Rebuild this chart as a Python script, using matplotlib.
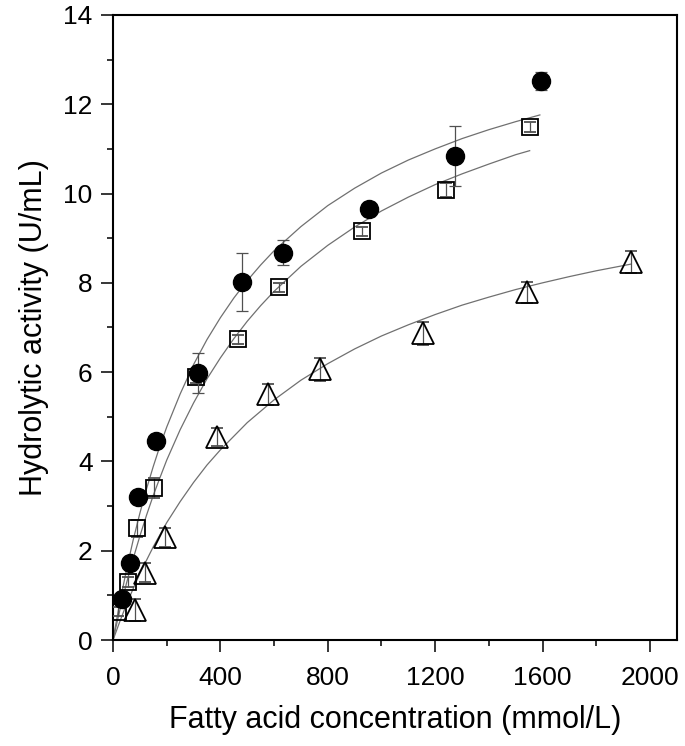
import numpy as np
import matplotlib.pyplot as plt
from matplotlib.ticker import MultipleLocator

plt.rcParams['font.family'] = ['Liberation Sans', 'DejaVu Sans']

# measured points (filled circles)
x_circ = [32, 63, 93, 160, 316, 479, 635, 955, 1274, 1593]
y_circ = [0.92, 1.72, 3.2, 4.46, 5.98, 8.02, 8.67, 9.65, 10.84, 12.52]
e_circ = [0.1, 0.1, 0.12, 0.15, 0.45, 0.65, 0.28, 0.15, 0.68, 0.2]

# open squares
x_sq = [19, 56, 90, 152, 308, 464, 617, 929, 1241, 1552]
y_sq = [0.63, 1.30, 2.5, 3.41, 5.9, 6.74, 7.9, 9.16, 10.08, 11.49]
e_sq = [0.1, 0.12, 0.2, 0.23, 0.15, 0.1, 0.1, 0.1, 0.15, 0.12]

# open triangles
x_tri = [82, 118, 193, 386, 576, 772, 1155, 1541, 1928]
y_tri = [0.67, 1.51, 2.3, 4.55, 5.5, 6.06, 6.87, 7.79, 8.47]
e_tri = [0.25, 0.21, 0.22, 0.2, 0.24, 0.26, 0.26, 0.24, 0.25]

# fitted curves
fx_circ = [0, 10, 25, 50, 75, 100, 125, 150, 175, 200, 250, 300, 350, 400, 450, 500, 550,
           600, 700, 800, 900, 1000, 1100, 1200, 1300, 1400, 1500, 1590]
fy_circ = [0, 0.34, 0.83, 1.57, 2.24, 2.84, 3.39, 3.89, 4.35, 4.77, 5.51, 6.17, 6.73, 7.22,
           7.66, 8.05, 8.40, 8.72, 9.26, 9.73, 10.12, 10.46, 10.75, 11.00, 11.23, 11.43,
           11.61, 11.76]

fx_sq = [0, 10, 25, 50, 75, 100, 125, 150, 175, 200, 250, 300, 350, 400, 450, 500, 550,
         600, 700, 800, 900, 1000, 1100, 1200, 1300, 1400, 1500, 1552]
fy_sq = [0, 0.27, 0.66, 1.27, 1.82, 2.33, 2.80, 3.24, 3.64, 4.03, 4.71, 5.31, 5.85, 6.32,
         6.75, 7.14, 7.49, 7.81, 8.37, 8.84, 9.25, 9.61, 9.92, 10.20, 10.44, 10.66, 10.87,
         10.96]

fx_tri = [0, 25, 50, 75, 100, 150, 200, 250, 300, 350, 400, 500, 600, 700, 800, 900, 1000,
          1100, 1200, 1300, 1400, 1500, 1600, 1700, 1800, 1930]
fy_tri = [0, 0.41, 0.80, 1.15, 1.49, 2.09, 2.63, 3.10, 3.53, 3.92, 4.26, 4.87, 5.38, 5.82,
          6.19, 6.52, 6.81, 7.06, 7.29, 7.50, 7.68, 7.85, 8.00, 8.14, 8.27, 8.42]

fig = plt.figure(figsize=(6.85, 7.46), dpi=100)
ax = fig.add_axes([0.165, 0.142, 0.823, 0.838])

line_col = '#707070'
ax.plot(fx_circ, fy_circ, color=line_col, lw=0.9, zorder=1)
ax.plot(fx_sq, fy_sq, color=line_col, lw=0.9, zorder=1)
ax.plot(fx_tri, fy_tri, color=line_col, lw=0.9, zorder=1)

eb = dict(ecolor='#505050', elinewidth=0.9, capsize=4, capthick=0.9, ls='none')
ax.errorbar(x_sq, y_sq, yerr=e_sq, fmt='s', ms=11.5, mfc='none', mec='black',
            mew=1.3, zorder=3, **eb)
ax.errorbar(x_tri, y_tri, yerr=e_tri, fmt='^', ms=15.5, mfc='none', mec='black',
            mew=1.3, zorder=3, **eb)
ax.errorbar(x_circ, y_circ, yerr=e_circ, fmt='o', ms=13, mfc='black', mec='black',
            zorder=4, **eb)

ax.set_xlim(0, 2100)
ax.set_ylim(0, 14)
ax.xaxis.set_major_locator(MultipleLocator(400))
ax.xaxis.set_minor_locator(MultipleLocator(200))
ax.yaxis.set_major_locator(MultipleLocator(2))
ax.yaxis.set_minor_locator(MultipleLocator(1))
ax.tick_params(which='major', direction='out', length=8.6, width=1.1, labelsize=19, pad=6)
ax.tick_params(which='minor', direction='out', length=4.3, width=1.1)
ax.tick_params(axis='x', which='major', pad=10)
for s in ax.spines.values():
    s.set_linewidth(1.5)

ax.set_xlabel('Fatty acid concentration (mmol/L)', fontsize=22, labelpad=11)
ax.set_ylabel('Hydrolytic activity (U/mL)', fontsize=22, labelpad=10)

fig.savefig('out.png', dpi=100)
